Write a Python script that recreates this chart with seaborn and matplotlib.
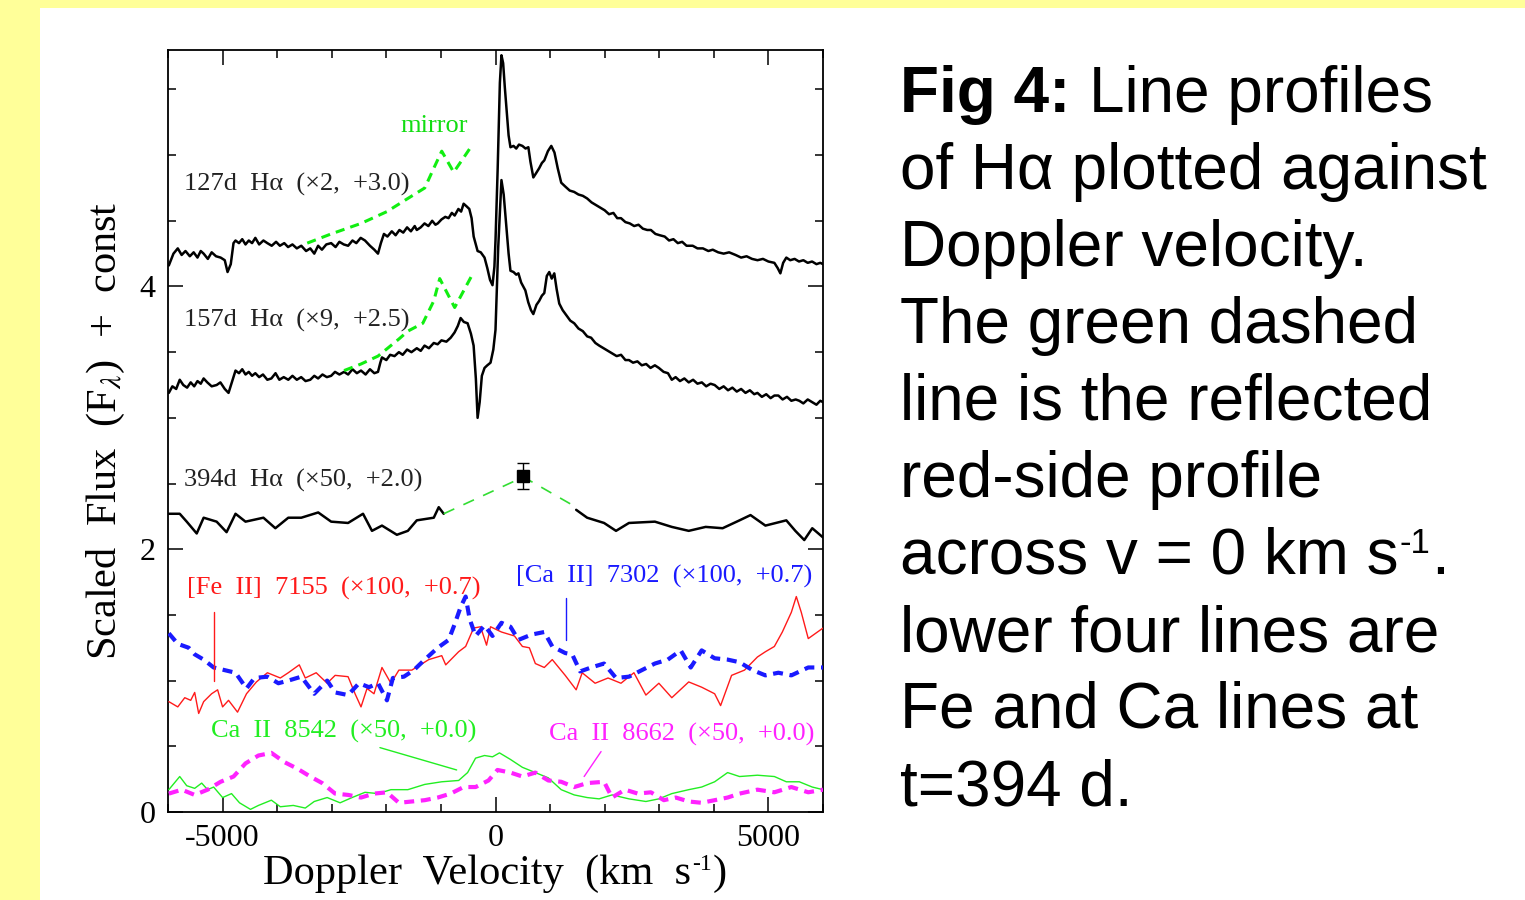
import numpy as np
import pandas as pd
import matplotlib
matplotlib.use("Agg")
import matplotlib.pyplot as plt
import seaborn as sns
from matplotlib.patches import Rectangle
from matplotlib.ticker import MultipleLocator

# ---------------- data (velocity km/s, scaled flux + const) ----------------
v127 = [-5985,-5900,-5821,-5750,-5680,-5600,-5530,-5460,-5400,-5347,-5270,-5200,-5120,-5036,-4960,-4909,-4850,-4800,
        -4763,-4700,-4640,-4580,-4520,-4460,-4400,-4330,-4252,-4180,-4100,-4020,-3950,-3870,-3800,-3720,-3640,-3558,
        -3470,-3394,-3320,-3250,-3180,-3100,-3011,-2930,-2860,-2780,-2700,-2620,-2550,-2470,-2391,-2300,-2220,-2153,
        -2100,-2044,-1980,-1900,-1830,-1760,-1690,-1620,-1550,-1480,-1442,-1370,-1300,-1230,-1160,-1100,-1058,-990,
        -920,-860,-800,-748,-680,-630,-584,-530,-480,-438,-400,-328,-270,-201,-150,-100,-55,-20,0,40,80,109,140,170,
        200,240,274,330,380,430,493,550,602,640,693,740,800,850,894,960,1022,1080,1140,1204,1280,1360,1440,1520,1600,
        1679,1760,1840,1920,2000,2080,2160,2230,2299,2380,2460,2540,2620,2700,2780,2847,2930,3010,3100,3180,3260,
        3340,3420,3500,3613,3700,3800,3900,3980,4080,4180,4280,4398,4500,4600,4700,4800,4900,5000,5109,5170,5219,
        5270,5328,5400,5480,5560,5640,5720,5800,5880,5950,6000]
f127 = [4.16,4.25,4.29,4.24,4.27,4.23,4.26,4.22,4.27,4.25,4.21,4.26,4.23,4.22,4.20,4.11,4.17,4.33,
        4.35,4.33,4.36,4.32,4.35,4.33,4.37,4.32,4.35,4.33,4.31,4.34,4.31,4.33,4.30,4.32,4.29,4.31,
        4.27,4.29,4.25,4.31,4.28,4.32,4.33,4.30,4.34,4.32,4.31,4.35,4.33,4.37,4.35,4.31,4.28,4.25,
        4.33,4.40,4.38,4.42,4.39,4.43,4.41,4.45,4.42,4.46,4.43,4.45,4.48,4.46,4.50,4.47,4.48,4.51,
        4.53,4.52,4.56,4.54,4.59,4.57,4.63,4.61,4.59,4.52,4.38,4.27,4.26,4.22,4.14,4.05,4.01,4.15,4.35,4.90,5.55,5.76,5.70,5.52,
        5.36,5.15,5.06,5.07,5.05,5.08,5.07,5.05,5.06,4.95,4.83,4.86,4.90,4.94,4.96,5.03,5.07,5.02,4.90,4.79,4.76,4.73,4.72,4.70,4.69,
        4.67,4.64,4.62,4.60,4.58,4.55,4.56,4.52,4.52,4.49,4.48,4.46,4.47,4.44,4.43,4.43,4.40,4.39,4.38,4.35,4.36,
        4.33,4.34,4.31,4.31,4.29,4.29,4.27,4.28,4.26,4.25,4.26,4.24,4.22,4.23,4.21,4.20,4.21,4.19,4.18,4.14,4.10,
        4.18,4.22,4.20,4.21,4.19,4.20,4.18,4.19,4.17,4.18,4.17]

v157 = [-5985,-5920,-5850,-5785,-5720,-5650,-5584,-5520,-5460,-5400,-5347,-5280,-5200,-5109,-5040,-4960,-4891,-4830,
        -4763,-4700,-4640,-4580,-4520,-4460,-4400,-4330,-4260,-4180,-4106,-4030,-3960,-3880,-3796,-3720,-3640,-3560,
        -3480,-3394,-3320,-3250,-3170,-3090,-3011,-2940,-2860,-2774,-2700,-2620,-2540,-2464,-2380,-2300,-2220,-2153,
        -2110,-2080,-2000,-1930,-1850,-1770,-1700,-1620,-1540,-1442,-1370,-1300,-1220,-1131,-1060,-990,-900,-821,
        -750,-690,-639,-580,-511,-450,-401,-360,-328,-290,-250,-201,-150,-91,-40,0,50,109,150,200,240,274,330,380,
        420,470,547,600,650,693,750,800,850,894,940,985,1030,1077,1120,1168,1230,1300,1370,1442,1520,1600,1680,1752,
        1830,1900,1980,2062,2140,2220,2300,2380,2445,2520,2600,2680,2760,2840,2920,2993,3080,3160,3230,3300,3380,
        3460,3540,3620,3700,3780,3860,3940,4015,4100,4180,4260,4340,4420,4500,4580,4660,4740,4799,4880,4960,5040,
        5110,5182,5260,5340,5420,5500,5566,5640,5720,5800,5880,5950,6000]
f157 = [3.19,3.24,3.22,3.29,3.25,3.23,3.27,3.24,3.28,3.26,3.30,3.27,3.24,3.25,3.27,3.22,3.19,3.27,
        3.36,3.34,3.37,3.33,3.35,3.32,3.34,3.31,3.33,3.29,3.30,3.34,3.29,3.31,3.29,3.32,3.29,3.31,
        3.28,3.29,3.32,3.30,3.33,3.31,3.32,3.35,3.33,3.35,3.33,3.37,3.34,3.36,3.33,3.37,3.34,3.35,
        3.42,3.46,3.44,3.48,3.47,3.50,3.48,3.52,3.50,3.53,3.51,3.55,3.53,3.57,3.56,3.59,3.58,3.61,
        3.65,3.70,3.76,3.73,3.72,3.64,3.55,3.30,3.00,3.12,3.32,3.38,3.40,3.42,3.52,3.67,4.30,4.81,4.70,4.45,4.25,4.12,4.11,4.09,
        4.10,4.03,3.97,3.88,3.82,3.79,3.86,3.89,3.93,3.95,4.08,4.11,4.06,4.10,3.98,3.87,3.82,3.78,3.74,3.72,3.68,3.66,3.62,3.61,
        3.57,3.55,3.53,3.51,3.49,3.47,3.48,3.44,3.44,3.42,3.43,3.40,3.41,3.38,3.40,3.38,3.35,3.34,3.29,3.31,3.28,
        3.30,3.27,3.29,3.26,3.27,3.24,3.26,3.25,3.22,3.24,3.21,3.23,3.20,3.22,3.19,3.21,3.18,3.19,3.16,3.18,3.15,
        3.17,3.17,3.14,3.16,3.13,3.14,3.13,3.11,3.14,3.12,3.10,3.13,3.12]

v_mirror127 = [-3449,-3011,-2464,-1989,-1606,-1296,-1131,-985,-766,-584,-438]
f_mirror127 = [4.33,4.40,4.48,4.57,4.67,4.75,4.90,5.03,4.87,4.98,5.07]
v_mirror157 = [-2774,-2464,-2153,-1770,-1606,-1332,-1131,-1022,-748,-438]
f_mirror157 = [3.36,3.41,3.47,3.60,3.66,3.72,3.89,4.06,3.84,4.08]

v394_blue = [-5985,-5785,-5657,-5474,-5347,-5109,-4927,-4763,-4580,-4252,-4033,-3796,-3558,-3248,-3011,-2701,
             -2427,-2263,-2080,-1807,-1606,-1442,-1131,-1040,-949]
f394_blue = [2.27,2.27,2.21,2.12,2.24,2.21,2.13,2.27,2.21,2.24,2.16,2.24,2.24,2.28,2.21,2.20,
             2.27,2.14,2.18,2.11,2.14,2.22,2.24,2.32,2.27]
v394_red = [1478,1679,1989,2208,2445,2920,3230,3540,3850,4161,4471,4672,4945,5328,5493,5657,5803,6000]
f394_red = [2.30,2.24,2.20,2.14,2.20,2.21,2.17,2.14,2.17,2.16,2.22,2.26,2.18,2.22,2.14,2.07,2.16,2.09]
v394_bridge = [-949, 511, 1478]
f394_bridge = [2.27, 2.55, 2.32]
v394_point, f394_point, e394_point = 511, 2.56, 0.10

v_fe = [-5985,-5821,-5693,-5584,-5511,-5438,-5347,-5201,-5091,-5000,-4891,-4726,-4562,-4380,-4179,-3942,-3796,
        -3595,-3485,-3285,-3084,-2938,-2701,-2573,-2464,-2354,-2226,-2080,-1916,-1770,-1533,-1223,-985,-912,-675,
        -547,-401,-274,-164,-91,109,347,493,620,730,894,1040,1277,1478,1588,1825,2062,2299,2536,2755,2993,3230,
        3540,3777,4015,4124,4325,4562,4799,4945,5109,5255,5420,5511,5602,5730,6000]
f_fe = [0.84,0.80,0.87,0.85,0.91,0.75,0.84,0.90,0.93,0.80,0.85,0.76,0.90,0.99,1.06,1.02,1.06,
        1.12,1.02,1.06,0.98,1.04,1.03,0.90,0.80,0.94,0.90,1.10,0.98,1.08,1.08,1.16,1.19,1.12,1.22,
        1.26,1.40,1.41,1.27,1.41,1.37,1.34,1.26,1.25,1.13,1.10,1.16,1.04,0.93,1.06,0.98,1.02,0.98,1.06,0.89,0.98,0.87,
        0.99,0.95,0.90,0.81,1.04,1.08,1.18,1.22,1.26,1.37,1.52,1.64,1.52,1.32,1.40]

v_ca7302 = [-5985,-5821,-5620,-5511,-5347,-5164,-4964,-4763,-4562,-4416,-4179,-3978,-3796,-3558,-3321,-3084,-2938,
            -2701,-2500,-2318,-2153,-1989,-1880,-1679,-1496,-1296,-1058,-858,-748,-639,-547,-474,-365,-201,-55,109,
            274,420,657,894,1040,1277,1405,1551,1752,1989,2208,2445,2682,2920,3157,3394,3577,3777,4015,4252,4471,
            4708,4945,5182,5420,5730,6000]
f_ca7302 = [1.36,1.28,1.25,1.20,1.16,1.10,1.08,1.06,0.94,1.02,1.03,0.98,1.00,1.03,0.90,1.00,0.91,
            0.89,0.98,0.95,0.98,0.85,1.02,1.03,1.08,1.16,1.25,1.31,1.43,1.56,1.64,1.47,1.34,1.42,1.34,1.44,
            1.41,1.31,1.35,1.37,1.26,1.21,1.20,1.07,1.10,1.13,1.02,1.03,1.08,1.13,1.16,1.23,1.10,1.23,1.17,1.16,1.14,
            1.08,1.04,1.06,1.04,1.10,1.10]

v_ca8542 = [-5985,-5785,-5657,-5511,-5383,-5274,-5164,-5000,-4836,-4690,-4489,-4343,-4106,-3942,-3704,-3485,-3321,
            -3084,-2847,-2628,-2391,-2153,-1916,-1606,-1296,-985,-675,-511,-365,-201,-55,73,274,493,730,967,1204,
            1442,1679,1898,2135,2445,2755,2993,3230,3540,3777,4015,4252,4471,4799,5109,5328,5566,5803,6000]
f_ca8542 = [0.17,0.27,0.20,0.18,0.22,0.17,0.19,0.11,0.14,0.07,0.02,0.05,0.09,0.04,0.05,0.03,0.08,
            0.11,0.07,0.11,0.15,0.14,0.17,0.17,0.21,0.23,0.24,0.30,0.41,0.43,0.42,0.45,0.40,0.34,0.30,0.26,0.17,
            0.13,0.11,0.10,0.13,0.10,0.08,0.10,0.14,0.17,0.19,0.23,0.30,0.27,0.28,0.27,0.23,0.23,0.19,0.17]

v_ca8662 = [-5985,-5748,-5511,-5274,-5036,-4799,-4580,-4343,-4106,-3869,-3631,-3394,-3175,-2938,-2701,-2464,-2226,
            -1989,-1770,-1533,-1296,-1058,-821,-584,-365,-128,36,274,493,730,967,1204,1442,1679,1989,2135,2372,
            2609,2847,3084,3303,3540,3777,4015,4252,4471,4799,5109,5420,5730,6000]
f_ca8662 = [0.14,0.17,0.13,0.17,0.23,0.27,0.37,0.43,0.45,0.38,0.33,0.27,0.22,0.14,0.13,0.11,0.14,
            0.15,0.07,0.08,0.09,0.11,0.14,0.19,0.19,0.24,0.32,0.30,0.27,0.30,0.24,0.23,0.19,0.22,0.23,0.11,0.17,
            0.14,0.15,0.09,0.11,0.08,0.07,0.09,0.11,0.14,0.17,0.15,0.19,0.15,0.17]

x_ticks = [-5000, 0, 5000]
y_ticks = [0, 2, 4]

curve_labels = ["127d  H\u03b1  (\u00d72,  +3.0)", "157d  H\u03b1  (\u00d79,  +2.5)", "394d  H\u03b1  (\u00d750,  +2.0)"]
curve_label_pos = [(-5712, 4.78), (-5712, 3.74), (-5712, 2.52)]
line_labels = ["[Fe  II]  7155  (\u00d7100,  +0.7)", "[Ca  II]  7302  (\u00d7100,  +0.7)",
               "Ca  II  8542  (\u00d750,  +0.0)", "Ca  II  8662  (\u00d750,  +0.0)"]
line_label_pos = [(-5657, 1.70), (383, 1.79), (-5219, 0.61), (985, 0.59)]
pointer_lines = [((-5164, -5164), (1.52, 1.00)), ((1296, 1296), (1.63, 1.31)),
                 ((-2117, -712), (0.49, 0.32)), ((1934, 1624), (0.46, 0.27))]
line_colors = ['#ff1a1a', '#1a1aff', '#22ee22', '#ff22ff']

caption_lines = ["Line profiles", "of H\u03b1 plotted against", "Doppler velocity.", "The green dashed",
                 "line is the reflected", "red-side profile", None,
                 "lower four lines are", "Fe and Ca lines at", "t=394 d."]

# ---------------- figure ----------------
sns.set_theme(style="ticks")
plt.rcParams['font.family'] = ['Liberation Serif', 'DejaVu Serif']
plt.rcParams['mathtext.fontset'] = 'stix'

W, H = 1525, 900
fig = plt.figure(figsize=(W / 100, H / 100), dpi=100)
fig.patch.set_facecolor('#FFFF99')
fig.patches.append(Rectangle((40 / W, 0), 1 - 40 / W, 1 - 8 / H, transform=fig.transFigure,
                             facecolor='white', edgecolor='none', zorder=-10))
ax = fig.add_axes([168 / W, 88 / H, 655 / W, 762 / H])
ax.set_facecolor('white')
renderer = fig.canvas.get_renderer()


def draw(v, f, color, lw, ls='-', z=3):
    sns.lineplot(x=v, y=f, ax=ax, color=color, linewidth=lw, linestyle=ls, sort=False,
                 estimator=None, zorder=z, legend=False)


def sequence(x_px, base_px, pieces, **kw):
    """Place text pieces left to right; pieces = (text, size, raise_px)."""
    x = x_px
    for txt, size, dy in pieces:
        t = fig.text(x / W, 1 - (base_px - dy) / H, txt, fontsize=size, va='baseline', ha='left', **kw)
        x = t.get_window_extent(renderer=renderer).x1 + 1
    return x


draw(v127, f127, 'black', 1.8)
draw(v157, f157, 'black', 1.8)
draw(v394_blue, f394_blue, 'black', 1.8)
draw(v394_red, f394_red, 'black', 1.8)
draw(v_mirror127, f_mirror127, '#11ee11', 2.2, (0, (3.0, 2.0)))
draw(v_mirror157, f_mirror157, '#11ee11', 2.2, (0, (3.0, 2.0)))
draw(v394_bridge, f394_bridge, '#33dd33', 1.2, (0, (7, 6)))
draw(v_fe, f_fe, line_colors[0], 1.0)
draw(v_ca7302, f_ca7302, line_colors[1], 3.0, (0, (2.4, 1.6)))
draw(v_ca8542, f_ca8542, line_colors[2], 1.0)
draw(v_ca8662, f_ca8662, line_colors[3], 3.0, (0, (2.4, 1.6)))

ax.errorbar([v394_point], [f394_point], yerr=[e394_point], fmt='s', color='black', ms=9,
            capsize=4, elinewidth=1.0, capthick=1.0, zorder=5)

for txt, (x, y) in zip(curve_labels, curve_label_pos):
    ax.text(x, y, txt, fontsize=19, color='#222222', va='center', ha='left')
ax.text(-1131, 5.22, "mirror", fontsize=19, color='#11dd11', va='center', ha='center')
for txt, (x, y), c in zip(line_labels, line_label_pos, line_colors):
    ax.text(x, y, txt, fontsize=19, color=c, va='center', ha='left')
for (xs, ys), c in zip(pointer_lines, line_colors):
    ax.plot(xs, ys, color=c, lw=1.0, zorder=4)

ax.set_xlim(-6000, 6000)
ax.set_ylim(0, 5.8)
ax.set_xticks(x_ticks)
ax.set_xticklabels([str(t) for t in x_ticks])
ax.set_yticks(y_ticks)
ax.set_yticklabels([str(t) for t in y_ticks])
ax.xaxis.set_minor_locator(MultipleLocator(1000))
ax.yaxis.set_minor_locator(MultipleLocator(0.5))
ax.tick_params(which='both', direction='in', top=True, right=True, width=1.1, color='black')
ax.tick_params(which='major', length=11, labelsize=23, pad=9, labelcolor='black')
ax.tick_params(which='minor', length=6)
for s in ax.spines.values():
    s.set_linewidth(1.3)
    s.set_color('black')

ax.set_ylabel("Scaled  Flux  (F$_{\\lambda}$)  +  const", fontsize=30.5, color='black', labelpad=9)

# x label with a raised "-1"
sequence(263, 884, [("Doppler  Velocity  (km  s", 30.5, 0), ("-1", 17, 14), (")", 30.5, 0)], color='black')

# ---------------- caption block ----------------
sans = ['Liberation Sans', 'DejaVu Sans']
x0 = 900
baselines = [112 + 77.0 * i for i in range(len(caption_lines))]
xb = sequence(x0, baselines[0], [("Fig 4:", 46, 0)], family=sans, fontweight='bold', color='black')
space_px = 0.278 * 46 * 100 / 72
for i, line in enumerate(caption_lines):
    if i == 0:
        sequence(xb + space_px, baselines[i], [(line, 46, 0)], family=sans, color='black')
    elif line is None:
        sequence(x0, baselines[i], [("across v = 0 km s", 46, 0), ("-1", 25, 21), (".", 46, 0)],
                 family=sans, color='black')
    else:
        sequence(x0, baselines[i], [(line, 46, 0)], family=sans, color='black')

fig.savefig("out.png", dpi=100, facecolor=fig.get_facecolor())
